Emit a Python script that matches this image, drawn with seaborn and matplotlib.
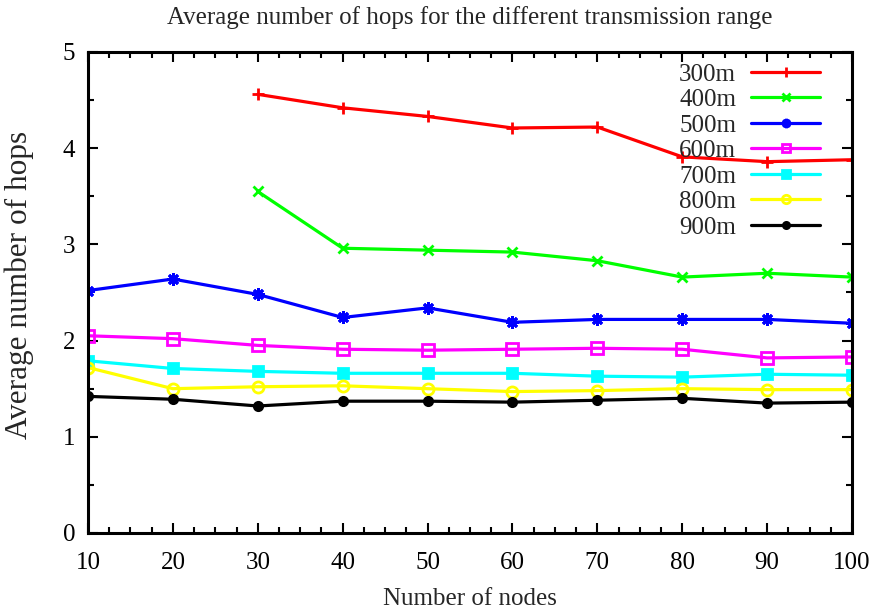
import matplotlib
matplotlib.use("Agg")
import matplotlib.pyplot as plt
import seaborn as sns
import pandas as pd
from matplotlib.ticker import MultipleLocator

nodes = [10, 20, 30, 40, 50, 60, 70, 80, 90, 100]
hops_300 = [None, None, 4.56, 4.42, 4.33, 4.21, 4.22, 3.91, 3.86, 3.88]
hops_400 = [None, None, 3.55, 2.96, 2.94, 2.92, 2.83, 2.66, 2.70, 2.66]
hops_500 = [2.52, 2.64, 2.48, 2.24, 2.34, 2.19, 2.22, 2.22, 2.22, 2.18]
hops_600 = [2.05, 2.02, 1.95, 1.91, 1.90, 1.91, 1.92, 1.91, 1.82, 1.83]
hops_700 = [1.79, 1.71, 1.68, 1.66, 1.66, 1.66, 1.63, 1.62, 1.65, 1.64]
hops_800 = [1.72, 1.50, 1.52, 1.53, 1.50, 1.47, 1.48, 1.50, 1.49, 1.49]
hops_900 = [1.42, 1.39, 1.32, 1.37, 1.37, 1.36, 1.38, 1.40, 1.35, 1.36]

ranges = ["300m", "400m", "500m", "600m", "700m", "800m", "900m"]
series = [hops_300, hops_400, hops_500, hops_600, hops_700, hops_800, hops_900]
colors = ["#ff0000", "#00ff00", "#0000ff", "#ff00ff", "#00ffff", "#ffff00", "#000000"]
markers = ["+", "x", (8, 2, 0), "s", "s", "o", "o"]
fills = [True, True, True, False, True, False, True]
msizes = [9, 7, 9, 8, 7, 8, 6]

rows = []
for name, vals in zip(ranges, series):
    for n, v in zip(nodes, vals):
        if v is not None:
            rows.append({"nodes": n, "hops": v, "range": name})
df = pd.DataFrame(rows)

sns.set_theme(style="ticks")
plt.rcParams["font.family"] = ["Liberation Serif", "DejaVu Serif"]

fig = plt.figure(figsize=(8.79, 6.11), dpi=100)
ax = fig.add_axes([0.1001, 0.1277, 0.8692, 0.7872])

for name, c, m, f, ms in zip(ranges, colors, markers, fills, msizes):
    sub = df[df["range"] == name]
    kw = dict(markerfacecolor=c if f else "none", markeredgecolor=c,
              markeredgewidth=2.0, markersize=ms)
    sns.lineplot(data=sub, x="nodes", y="hops", ax=ax, color=c, marker=m,
                 linewidth=2.3, label=name, **kw)

ax.set_xlim(10, 100)
ax.set_ylim(0, 5)
ax.xaxis.set_major_locator(MultipleLocator(10))
ax.xaxis.set_minor_locator(MultipleLocator(2.5))
ax.yaxis.set_major_locator(MultipleLocator(1))
ax.yaxis.set_minor_locator(MultipleLocator(0.5))
ax.tick_params(which="both", direction="in", top=True, right=True,
               labelsize=18, colors="black")
ax.tick_params(axis="x", which="major", pad=14)
ax.tick_params(axis="y", which="major", pad=9)
ax.tick_params(which="major", length=7, width=1.5)
ax.tick_params(which="minor", length=4, width=1.5)
for sp in ax.spines.values():
    sp.set_linewidth(2.2)
    sp.set_color("black")

ax.set_xlabel("Number of nodes", fontsize=18, labelpad=10)
ax.set_ylabel("Average number of hops", fontsize=22.5)
ax.yaxis.set_label_coords(-0.071, 0.516)
ax.set_title("Average number of hops for the different transmission range",
             fontsize=18, pad=20)

ax.legend(loc="upper right", bbox_to_anchor=(0.958, 0.977), frameon=False,
          markerfirst=False, fontsize=18, handlelength=2.75, labelspacing=0.12,
          borderpad=0, borderaxespad=0, handletextpad=0.6, markerscale=0.75)

fig.savefig("out.png", dpi=100)
